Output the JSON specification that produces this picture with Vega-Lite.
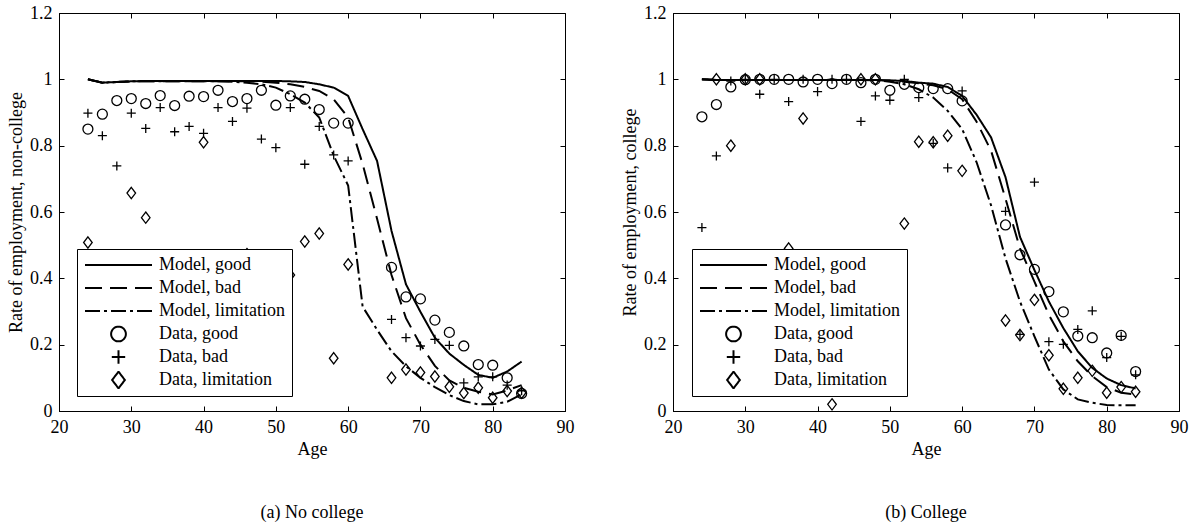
{
  "$schema": "https://vega.github.io/schema/vega-lite/v6.json",
  "background": "white",
  "padding": {"left": 7, "top": 3, "right": 0, "bottom": 5},
  "datasets": {
    "rows": [
      {"p":"a","s":"Model, good","x":24,"y":1.0},{"p":"a","s":"Model, good","x":26,"y":0.99},{"p":"a","s":"Model, good","x":28,"y":0.992},{"p":"a","s":"Model, good","x":30,"y":0.994},{"p":"a","s":"Model, good","x":32,"y":0.995},{"p":"a","s":"Model, good","x":34,"y":0.995},{"p":"a","s":"Model, good","x":36,"y":0.995},{"p":"a","s":"Model, good","x":38,"y":0.995},{"p":"a","s":"Model, good","x":40,"y":0.995},{"p":"a","s":"Model, good","x":42,"y":0.995},{"p":"a","s":"Model, good","x":44,"y":0.995},{"p":"a","s":"Model, good","x":46,"y":0.995},{"p":"a","s":"Model, good","x":48,"y":0.995},{"p":"a","s":"Model, good","x":50,"y":0.995},{"p":"a","s":"Model, good","x":52,"y":0.994},{"p":"a","s":"Model, good","x":54,"y":0.992},{"p":"a","s":"Model, good","x":56,"y":0.985},{"p":"a","s":"Model, good","x":58,"y":0.975},{"p":"a","s":"Model, good","x":60,"y":0.95},{"p":"a","s":"Model, good","x":62,"y":0.85},{"p":"a","s":"Model, good","x":64,"y":0.754},{"p":"a","s":"Model, good","x":66,"y":0.543},{"p":"a","s":"Model, good","x":68,"y":0.382},{"p":"a","s":"Model, good","x":70,"y":0.299},{"p":"a","s":"Model, good","x":72,"y":0.221},{"p":"a","s":"Model, good","x":74,"y":0.173},{"p":"a","s":"Model, good","x":76,"y":0.139},{"p":"a","s":"Model, good","x":78,"y":0.109},{"p":"a","s":"Model, good","x":80,"y":0.1},{"p":"a","s":"Model, good","x":82,"y":0.119},{"p":"a","s":"Model, good","x":84,"y":0.149},
      {"p":"a","s":"Model, bad","x":24,"y":1.0},{"p":"a","s":"Model, bad","x":26,"y":0.99},{"p":"a","s":"Model, bad","x":28,"y":0.992},{"p":"a","s":"Model, bad","x":30,"y":0.994},{"p":"a","s":"Model, bad","x":32,"y":0.994},{"p":"a","s":"Model, bad","x":34,"y":0.994},{"p":"a","s":"Model, bad","x":36,"y":0.994},{"p":"a","s":"Model, bad","x":38,"y":0.994},{"p":"a","s":"Model, bad","x":40,"y":0.994},{"p":"a","s":"Model, bad","x":42,"y":0.994},{"p":"a","s":"Model, bad","x":44,"y":0.994},{"p":"a","s":"Model, bad","x":46,"y":0.994},{"p":"a","s":"Model, bad","x":48,"y":0.993},{"p":"a","s":"Model, bad","x":50,"y":0.99},{"p":"a","s":"Model, bad","x":52,"y":0.985},{"p":"a","s":"Model, bad","x":54,"y":0.977},{"p":"a","s":"Model, bad","x":56,"y":0.965},{"p":"a","s":"Model, bad","x":58,"y":0.94},{"p":"a","s":"Model, bad","x":60,"y":0.885},{"p":"a","s":"Model, bad","x":62,"y":0.745},{"p":"a","s":"Model, bad","x":64,"y":0.58},{"p":"a","s":"Model, bad","x":66,"y":0.41},{"p":"a","s":"Model, bad","x":68,"y":0.28},{"p":"a","s":"Model, bad","x":70,"y":0.2},{"p":"a","s":"Model, bad","x":72,"y":0.136},{"p":"a","s":"Model, bad","x":74,"y":0.092},{"p":"a","s":"Model, bad","x":76,"y":0.07},{"p":"a","s":"Model, bad","x":78,"y":0.058},{"p":"a","s":"Model, bad","x":80,"y":0.05},{"p":"a","s":"Model, bad","x":82,"y":0.062},{"p":"a","s":"Model, bad","x":84,"y":0.078},
      {"p":"a","s":"Model, limitation","x":24,"y":1.0},{"p":"a","s":"Model, limitation","x":26,"y":0.99},{"p":"a","s":"Model, limitation","x":28,"y":0.992},{"p":"a","s":"Model, limitation","x":30,"y":0.994},{"p":"a","s":"Model, limitation","x":32,"y":0.994},{"p":"a","s":"Model, limitation","x":34,"y":0.994},{"p":"a","s":"Model, limitation","x":36,"y":0.994},{"p":"a","s":"Model, limitation","x":38,"y":0.994},{"p":"a","s":"Model, limitation","x":40,"y":0.994},{"p":"a","s":"Model, limitation","x":42,"y":0.994},{"p":"a","s":"Model, limitation","x":44,"y":0.993},{"p":"a","s":"Model, limitation","x":46,"y":0.99},{"p":"a","s":"Model, limitation","x":48,"y":0.985},{"p":"a","s":"Model, limitation","x":50,"y":0.975},{"p":"a","s":"Model, limitation","x":52,"y":0.955},{"p":"a","s":"Model, limitation","x":54,"y":0.93},{"p":"a","s":"Model, limitation","x":56,"y":0.885},{"p":"a","s":"Model, limitation","x":58,"y":0.77},{"p":"a","s":"Model, limitation","x":60,"y":0.68},{"p":"a","s":"Model, limitation","x":62,"y":0.315},{"p":"a","s":"Model, limitation","x":64,"y":0.245},{"p":"a","s":"Model, limitation","x":66,"y":0.18},{"p":"a","s":"Model, limitation","x":68,"y":0.135},{"p":"a","s":"Model, limitation","x":70,"y":0.1},{"p":"a","s":"Model, limitation","x":72,"y":0.072},{"p":"a","s":"Model, limitation","x":74,"y":0.048},{"p":"a","s":"Model, limitation","x":76,"y":0.03},{"p":"a","s":"Model, limitation","x":78,"y":0.02},{"p":"a","s":"Model, limitation","x":80,"y":0.02},{"p":"a","s":"Model, limitation","x":82,"y":0.028},{"p":"a","s":"Model, limitation","x":84,"y":0.05},
      {"p":"a","s":"Data, good","x":24,"y":0.85},{"p":"a","s":"Data, good","x":26,"y":0.895},{"p":"a","s":"Data, good","x":28,"y":0.936},{"p":"a","s":"Data, good","x":30,"y":0.942},{"p":"a","s":"Data, good","x":32,"y":0.927},{"p":"a","s":"Data, good","x":34,"y":0.951},{"p":"a","s":"Data, good","x":36,"y":0.921},{"p":"a","s":"Data, good","x":38,"y":0.949},{"p":"a","s":"Data, good","x":40,"y":0.948},{"p":"a","s":"Data, good","x":42,"y":0.967},{"p":"a","s":"Data, good","x":44,"y":0.933},{"p":"a","s":"Data, good","x":46,"y":0.942},{"p":"a","s":"Data, good","x":48,"y":0.967},{"p":"a","s":"Data, good","x":50,"y":0.922},{"p":"a","s":"Data, good","x":52,"y":0.95},{"p":"a","s":"Data, good","x":54,"y":0.94},{"p":"a","s":"Data, good","x":56,"y":0.909},{"p":"a","s":"Data, good","x":58,"y":0.868},{"p":"a","s":"Data, good","x":60,"y":0.868},{"p":"a","s":"Data, good","x":66,"y":0.433},{"p":"a","s":"Data, good","x":68,"y":0.344},{"p":"a","s":"Data, good","x":70,"y":0.338},{"p":"a","s":"Data, good","x":72,"y":0.274},{"p":"a","s":"Data, good","x":74,"y":0.237},{"p":"a","s":"Data, good","x":76,"y":0.196},{"p":"a","s":"Data, good","x":78,"y":0.14},{"p":"a","s":"Data, good","x":80,"y":0.138},{"p":"a","s":"Data, good","x":82,"y":0.1},{"p":"a","s":"Data, good","x":84,"y":0.053},
      {"p":"a","s":"Data, bad","x":24,"y":0.898},{"p":"a","s":"Data, bad","x":26,"y":0.83},{"p":"a","s":"Data, bad","x":28,"y":0.739},{"p":"a","s":"Data, bad","x":30,"y":0.898},{"p":"a","s":"Data, bad","x":32,"y":0.852},{"p":"a","s":"Data, bad","x":34,"y":0.915},{"p":"a","s":"Data, bad","x":36,"y":0.842},{"p":"a","s":"Data, bad","x":38,"y":0.858},{"p":"a","s":"Data, bad","x":40,"y":0.837},{"p":"a","s":"Data, bad","x":42,"y":0.915},{"p":"a","s":"Data, bad","x":44,"y":0.873},{"p":"a","s":"Data, bad","x":46,"y":0.913},{"p":"a","s":"Data, bad","x":48,"y":0.82},{"p":"a","s":"Data, bad","x":50,"y":0.794},{"p":"a","s":"Data, bad","x":52,"y":0.915},{"p":"a","s":"Data, bad","x":54,"y":0.744},{"p":"a","s":"Data, bad","x":56,"y":0.858},{"p":"a","s":"Data, bad","x":58,"y":0.772},{"p":"a","s":"Data, bad","x":60,"y":0.754},{"p":"a","s":"Data, bad","x":66,"y":0.276},{"p":"a","s":"Data, bad","x":68,"y":0.221},{"p":"a","s":"Data, bad","x":70,"y":0.196},{"p":"a","s":"Data, bad","x":72,"y":0.216},{"p":"a","s":"Data, bad","x":74,"y":0.198},{"p":"a","s":"Data, bad","x":76,"y":0.085},{"p":"a","s":"Data, bad","x":78,"y":0.103},{"p":"a","s":"Data, bad","x":80,"y":0.103},{"p":"a","s":"Data, bad","x":82,"y":0.078},{"p":"a","s":"Data, bad","x":84,"y":0.061},
      {"p":"a","s":"Data, limitation","x":24,"y":0.508},{"p":"a","s":"Data, limitation","x":30,"y":0.657},{"p":"a","s":"Data, limitation","x":32,"y":0.583},{"p":"a","s":"Data, limitation","x":40,"y":0.81},{"p":"a","s":"Data, limitation","x":46,"y":0.473},{"p":"a","s":"Data, limitation","x":52,"y":0.41},{"p":"a","s":"Data, limitation","x":54,"y":0.511},{"p":"a","s":"Data, limitation","x":56,"y":0.535},{"p":"a","s":"Data, limitation","x":58,"y":0.159},{"p":"a","s":"Data, limitation","x":60,"y":0.442},{"p":"a","s":"Data, limitation","x":66,"y":0.1},{"p":"a","s":"Data, limitation","x":68,"y":0.125},{"p":"a","s":"Data, limitation","x":70,"y":0.116},{"p":"a","s":"Data, limitation","x":72,"y":0.104},{"p":"a","s":"Data, limitation","x":74,"y":0.073},{"p":"a","s":"Data, limitation","x":76,"y":0.054},{"p":"a","s":"Data, limitation","x":78,"y":0.07},{"p":"a","s":"Data, limitation","x":80,"y":0.04},{"p":"a","s":"Data, limitation","x":82,"y":0.06},{"p":"a","s":"Data, limitation","x":84,"y":0.055},
      {"p":"b","s":"Model, good","x":24,"y":1.0},{"p":"b","s":"Model, good","x":26,"y":0.998},{"p":"b","s":"Model, good","x":28,"y":0.998},{"p":"b","s":"Model, good","x":30,"y":0.998},{"p":"b","s":"Model, good","x":32,"y":0.998},{"p":"b","s":"Model, good","x":34,"y":0.998},{"p":"b","s":"Model, good","x":36,"y":0.998},{"p":"b","s":"Model, good","x":38,"y":0.998},{"p":"b","s":"Model, good","x":40,"y":0.998},{"p":"b","s":"Model, good","x":42,"y":0.998},{"p":"b","s":"Model, good","x":44,"y":0.998},{"p":"b","s":"Model, good","x":46,"y":0.998},{"p":"b","s":"Model, good","x":48,"y":0.998},{"p":"b","s":"Model, good","x":50,"y":0.997},{"p":"b","s":"Model, good","x":52,"y":0.995},{"p":"b","s":"Model, good","x":54,"y":0.99},{"p":"b","s":"Model, good","x":56,"y":0.987},{"p":"b","s":"Model, good","x":58,"y":0.977},{"p":"b","s":"Model, good","x":60,"y":0.95},{"p":"b","s":"Model, good","x":62,"y":0.893},{"p":"b","s":"Model, good","x":64,"y":0.825},{"p":"b","s":"Model, good","x":66,"y":0.705},{"p":"b","s":"Model, good","x":68,"y":0.525},{"p":"b","s":"Model, good","x":70,"y":0.425},{"p":"b","s":"Model, good","x":72,"y":0.33},{"p":"b","s":"Model, good","x":74,"y":0.25},{"p":"b","s":"Model, good","x":76,"y":0.18},{"p":"b","s":"Model, good","x":78,"y":0.13},{"p":"b","s":"Model, good","x":80,"y":0.098},{"p":"b","s":"Model, good","x":82,"y":0.078},{"p":"b","s":"Model, good","x":84,"y":0.068},
      {"p":"b","s":"Model, bad","x":24,"y":1.0},{"p":"b","s":"Model, bad","x":26,"y":0.998},{"p":"b","s":"Model, bad","x":28,"y":0.998},{"p":"b","s":"Model, bad","x":30,"y":0.998},{"p":"b","s":"Model, bad","x":32,"y":0.998},{"p":"b","s":"Model, bad","x":34,"y":0.998},{"p":"b","s":"Model, bad","x":36,"y":0.998},{"p":"b","s":"Model, bad","x":38,"y":0.998},{"p":"b","s":"Model, bad","x":40,"y":0.998},{"p":"b","s":"Model, bad","x":42,"y":0.998},{"p":"b","s":"Model, bad","x":44,"y":0.998},{"p":"b","s":"Model, bad","x":46,"y":0.998},{"p":"b","s":"Model, bad","x":48,"y":0.998},{"p":"b","s":"Model, bad","x":50,"y":0.996},{"p":"b","s":"Model, bad","x":52,"y":0.993},{"p":"b","s":"Model, bad","x":54,"y":0.988},{"p":"b","s":"Model, bad","x":56,"y":0.982},{"p":"b","s":"Model, bad","x":58,"y":0.97},{"p":"b","s":"Model, bad","x":60,"y":0.94},{"p":"b","s":"Model, bad","x":62,"y":0.872},{"p":"b","s":"Model, bad","x":64,"y":0.785},{"p":"b","s":"Model, bad","x":66,"y":0.64},{"p":"b","s":"Model, bad","x":68,"y":0.49},{"p":"b","s":"Model, bad","x":70,"y":0.39},{"p":"b","s":"Model, bad","x":72,"y":0.29},{"p":"b","s":"Model, bad","x":74,"y":0.21},{"p":"b","s":"Model, bad","x":76,"y":0.15},{"p":"b","s":"Model, bad","x":78,"y":0.105},{"p":"b","s":"Model, bad","x":80,"y":0.072},{"p":"b","s":"Model, bad","x":82,"y":0.055},{"p":"b","s":"Model, bad","x":84,"y":0.05},
      {"p":"b","s":"Model, limitation","x":24,"y":1.0},{"p":"b","s":"Model, limitation","x":26,"y":0.998},{"p":"b","s":"Model, limitation","x":28,"y":0.998},{"p":"b","s":"Model, limitation","x":30,"y":0.998},{"p":"b","s":"Model, limitation","x":32,"y":0.998},{"p":"b","s":"Model, limitation","x":34,"y":0.998},{"p":"b","s":"Model, limitation","x":36,"y":0.998},{"p":"b","s":"Model, limitation","x":38,"y":0.998},{"p":"b","s":"Model, limitation","x":40,"y":0.998},{"p":"b","s":"Model, limitation","x":42,"y":0.998},{"p":"b","s":"Model, limitation","x":44,"y":0.998},{"p":"b","s":"Model, limitation","x":46,"y":0.998},{"p":"b","s":"Model, limitation","x":48,"y":0.997},{"p":"b","s":"Model, limitation","x":50,"y":0.993},{"p":"b","s":"Model, limitation","x":52,"y":0.985},{"p":"b","s":"Model, limitation","x":54,"y":0.97},{"p":"b","s":"Model, limitation","x":56,"y":0.945},{"p":"b","s":"Model, limitation","x":58,"y":0.905},{"p":"b","s":"Model, limitation","x":60,"y":0.85},{"p":"b","s":"Model, limitation","x":62,"y":0.75},{"p":"b","s":"Model, limitation","x":64,"y":0.62},{"p":"b","s":"Model, limitation","x":66,"y":0.46},{"p":"b","s":"Model, limitation","x":68,"y":0.33},{"p":"b","s":"Model, limitation","x":70,"y":0.225},{"p":"b","s":"Model, limitation","x":72,"y":0.125},{"p":"b","s":"Model, limitation","x":74,"y":0.065},{"p":"b","s":"Model, limitation","x":76,"y":0.035},{"p":"b","s":"Model, limitation","x":78,"y":0.025},{"p":"b","s":"Model, limitation","x":80,"y":0.018},{"p":"b","s":"Model, limitation","x":82,"y":0.017},{"p":"b","s":"Model, limitation","x":84,"y":0.017},
      {"p":"b","s":"Data, good","x":24,"y":0.887},{"p":"b","s":"Data, good","x":26,"y":0.924},{"p":"b","s":"Data, good","x":28,"y":0.977},{"p":"b","s":"Data, good","x":30,"y":0.999},{"p":"b","s":"Data, good","x":32,"y":1.0},{"p":"b","s":"Data, good","x":34,"y":1.0},{"p":"b","s":"Data, good","x":36,"y":1.0},{"p":"b","s":"Data, good","x":38,"y":0.992},{"p":"b","s":"Data, good","x":40,"y":1.0},{"p":"b","s":"Data, good","x":42,"y":0.987},{"p":"b","s":"Data, good","x":44,"y":1.0},{"p":"b","s":"Data, good","x":46,"y":0.99},{"p":"b","s":"Data, good","x":48,"y":1.0},{"p":"b","s":"Data, good","x":50,"y":0.967},{"p":"b","s":"Data, good","x":52,"y":0.985},{"p":"b","s":"Data, good","x":54,"y":0.975},{"p":"b","s":"Data, good","x":56,"y":0.972},{"p":"b","s":"Data, good","x":58,"y":0.972},{"p":"b","s":"Data, good","x":60,"y":0.935},{"p":"b","s":"Data, good","x":66,"y":0.561},{"p":"b","s":"Data, good","x":68,"y":0.471},{"p":"b","s":"Data, good","x":70,"y":0.427},{"p":"b","s":"Data, good","x":72,"y":0.36},{"p":"b","s":"Data, good","x":74,"y":0.299},{"p":"b","s":"Data, good","x":76,"y":0.226},{"p":"b","s":"Data, good","x":78,"y":0.221},{"p":"b","s":"Data, good","x":80,"y":0.175},{"p":"b","s":"Data, good","x":82,"y":0.228},{"p":"b","s":"Data, good","x":84,"y":0.119},
      {"p":"b","s":"Data, bad","x":24,"y":0.553},{"p":"b","s":"Data, bad","x":26,"y":0.769},{"p":"b","s":"Data, bad","x":28,"y":0.995},{"p":"b","s":"Data, bad","x":30,"y":1.0},{"p":"b","s":"Data, bad","x":32,"y":0.955},{"p":"b","s":"Data, bad","x":34,"y":1.0},{"p":"b","s":"Data, bad","x":36,"y":0.933},{"p":"b","s":"Data, bad","x":38,"y":1.0},{"p":"b","s":"Data, bad","x":40,"y":0.963},{"p":"b","s":"Data, bad","x":42,"y":1.0},{"p":"b","s":"Data, bad","x":44,"y":1.0},{"p":"b","s":"Data, bad","x":46,"y":0.873},{"p":"b","s":"Data, bad","x":48,"y":0.95},{"p":"b","s":"Data, bad","x":50,"y":0.937},{"p":"b","s":"Data, bad","x":52,"y":1.0},{"p":"b","s":"Data, bad","x":54,"y":0.945},{"p":"b","s":"Data, bad","x":56,"y":0.807},{"p":"b","s":"Data, bad","x":58,"y":0.733},{"p":"b","s":"Data, bad","x":60,"y":0.965},{"p":"b","s":"Data, bad","x":66,"y":0.602},{"p":"b","s":"Data, bad","x":68,"y":0.231},{"p":"b","s":"Data, bad","x":70,"y":0.69},{"p":"b","s":"Data, bad","x":72,"y":0.209},{"p":"b","s":"Data, bad","x":74,"y":0.201},{"p":"b","s":"Data, bad","x":76,"y":0.246},{"p":"b","s":"Data, bad","x":78,"y":0.302},{"p":"b","s":"Data, bad","x":80,"y":0.161},{"p":"b","s":"Data, bad","x":82,"y":0.225},{"p":"b","s":"Data, bad","x":84,"y":0.109},
      {"p":"b","s":"Data, limitation","x":26,"y":1.0},{"p":"b","s":"Data, limitation","x":28,"y":0.8},{"p":"b","s":"Data, limitation","x":30,"y":1.0},{"p":"b","s":"Data, limitation","x":32,"y":1.0},{"p":"b","s":"Data, limitation","x":36,"y":0.49},{"p":"b","s":"Data, limitation","x":38,"y":0.882},{"p":"b","s":"Data, limitation","x":42,"y":0.02},{"p":"b","s":"Data, limitation","x":46,"y":1.0},{"p":"b","s":"Data, limitation","x":48,"y":1.0},{"p":"b","s":"Data, limitation","x":52,"y":0.565},{"p":"b","s":"Data, limitation","x":54,"y":0.812},{"p":"b","s":"Data, limitation","x":56,"y":0.81},{"p":"b","s":"Data, limitation","x":58,"y":0.83},{"p":"b","s":"Data, limitation","x":60,"y":0.724},{"p":"b","s":"Data, limitation","x":66,"y":0.273},{"p":"b","s":"Data, limitation","x":68,"y":0.229},{"p":"b","s":"Data, limitation","x":70,"y":0.335},{"p":"b","s":"Data, limitation","x":72,"y":0.168},{"p":"b","s":"Data, limitation","x":74,"y":0.067},{"p":"b","s":"Data, limitation","x":76,"y":0.1},{"p":"b","s":"Data, limitation","x":78,"y":0.121},{"p":"b","s":"Data, limitation","x":80,"y":0.055},{"p":"b","s":"Data, limitation","x":82,"y":0.072},{"p":"b","s":"Data, limitation","x":84,"y":0.058}
    ]
  },
  "data": {"name": "rows"},
  "spacing": 46,
  "resolve": {
    "scale": {"shape": "independent", "strokeDash": "independent"},
    "legend": {"shape": "independent", "strokeDash": "independent"}
  },
  "hconcat": [
    {
      "width": 506, "height": 398,
      "transform": [{"filter": "datum.p == 'a'"}],
      "title": {"text": "(a) No college", "orient": "bottom", "offset": 46, "anchor": "middle"},
      "layer": [
        {
          "transform": [{"filter": "indexof(datum.s, 'Model') == 0"}],
          "mark": {"type": "line", "stroke": "black", "strokeWidth": 2},
          "encoding": {
            "x": {"field": "x", "type": "quantitative", "scale": {"domain": [20, 90], "nice": false}, "axis": {"orient": "bottom", "title": "Age", "values": [20,30,40,50,60,70,80,90]}},
            "y": {"field": "y", "type": "quantitative", "scale": {"domain": [0, 1.2], "nice": false}, "axis": {"orient": "left", "title": "Rate of employment, non-college", "values": [0,0.2,0.4,0.6,0.8,1,1.2], "format": "~g"}},
            "strokeDash": {"field": "s", "type": "nominal",
              "scale": {"domain": ["Model, good","Model, bad","Model, limitation","Data, good","Data, bad","Data, limitation"], "range": [[1,0],[17,8],[15,4,3,4],[1,0],[1,0],[1,0]]},
              "legend": {"title": null, "orient": "none", "legendX": 18, "legendY": 236}}
          }
        },
        {
          "transform": [{"filter": "indexof(datum.s, 'Data') == 0"}],
          "mark": {"type": "point", "filled": false, "stroke": "black", "strokeWidth": 1.3, "size": 2045, "opacity": 1},
          "encoding": {
            "x": {"field": "x", "type": "quantitative", "axis": {"orient": "top", "labels": false, "title": null, "domain": false, "values": [20,30,40,50,60,70,80,90]}},
            "y": {"field": "y", "type": "quantitative", "axis": {"orient": "right", "labels": false, "title": null, "domain": false, "values": [0,0.2,0.4,0.6,0.8,1,1.2]}},
            "shape": {"field": "s", "type": "nominal",
              "scale": {"domain": ["Model, good","Model, bad","Model, limitation","Data, good","Data, bad","Data, limitation"], "range": ["M-1,0H1","M-1,0H1","M-1,0H1","M0.22,0A0.22,0.22,0,1,1,-0.22,0A0.22,0.22,0,1,1,0.22,0Z","M-0.2,0H0.2M0,-0.2V0.2","M0,-0.25L0.19,0L0,0.25L-0.19,0Z"]},
              "legend": {"title": null, "orient": "none", "legendX": 18, "legendY": 236}}
          }
        }
      ],
      "resolve": {"axis": {"x": "independent", "y": "independent"}}
    },
    {
      "width": 506, "height": 398,
      "transform": [{"filter": "datum.p == 'b'"}],
      "title": {"text": "(b) College", "orient": "bottom", "offset": 46, "anchor": "middle"},
      "layer": [
        {
          "transform": [{"filter": "indexof(datum.s, 'Model') == 0"}],
          "mark": {"type": "line", "stroke": "black", "strokeWidth": 2},
          "encoding": {
            "x": {"field": "x", "type": "quantitative", "scale": {"domain": [20, 90], "nice": false}, "axis": {"orient": "bottom", "title": "Age", "values": [20,30,40,50,60,70,80,90]}},
            "y": {"field": "y", "type": "quantitative", "scale": {"domain": [0, 1.2], "nice": false}, "axis": {"orient": "left", "title": "Rate of employment, college", "values": [0,0.2,0.4,0.6,0.8,1,1.2], "format": "~g"}},
            "strokeDash": {"field": "s", "type": "nominal",
              "scale": {"domain": ["Model, good","Model, bad","Model, limitation","Data, good","Data, bad","Data, limitation"], "range": [[1,0],[17,8],[15,4,3,4],[1,0],[1,0],[1,0]]},
              "legend": {"title": null, "orient": "none", "legendX": 19, "legendY": 236}}
          }
        },
        {
          "transform": [{"filter": "indexof(datum.s, 'Data') == 0"}],
          "mark": {"type": "point", "filled": false, "stroke": "black", "strokeWidth": 1.3, "size": 2045, "opacity": 1},
          "encoding": {
            "x": {"field": "x", "type": "quantitative", "axis": {"orient": "top", "labels": false, "title": null, "domain": false, "values": [20,30,40,50,60,70,80,90]}},
            "y": {"field": "y", "type": "quantitative", "axis": {"orient": "right", "labels": false, "title": null, "domain": false, "values": [0,0.2,0.4,0.6,0.8,1,1.2]}},
            "shape": {"field": "s", "type": "nominal",
              "scale": {"domain": ["Model, good","Model, bad","Model, limitation","Data, good","Data, bad","Data, limitation"], "range": ["M-1,0H1","M-1,0H1","M-1,0H1","M0.22,0A0.22,0.22,0,1,1,-0.22,0A0.22,0.22,0,1,1,0.22,0Z","M-0.2,0H0.2M0,-0.2V0.2","M0,-0.25L0.19,0L0,0.25L-0.19,0Z"]},
              "legend": {"title": null, "orient": "none", "legendX": 19, "legendY": 236}}
          }
        }
      ],
      "resolve": {"axis": {"x": "independent", "y": "independent"}}
    }
  ],
  "config": {
    "font": "Liberation Serif",
    "view": {"stroke": "black", "strokeWidth": 1},
    "axis": {
      "labelFont": "Liberation Serif", "labelFontSize": 18, "labelColor": "black",
      "titleFont": "Liberation Serif", "titleFontSize": 18, "titleFontWeight": "normal", "titleColor": "black",
      "domainColor": "black", "tickColor": "black", "grid": false,
      "tickSize": -5, "labelPadding": 12, "labelFlush": false, "titlePadding": 4
    },
    "legend": {
      "strokeColor": "black", "fillColor": "white", "padding": 7,
      "labelFont": "Liberation Serif", "labelFontSize": 18, "labelColor": "black",
      "symbolSize": 4489, "symbolStrokeColor": "black", "symbolFillColor": "transparent",
      "symbolStrokeWidth": 2, "labelOffset": 6, "rowPadding": 5, "clipHeight": 18
    },
    "title": {"font": "Liberation Serif", "fontSize": 18, "fontWeight": "normal", "color": "black"}
  }
}
